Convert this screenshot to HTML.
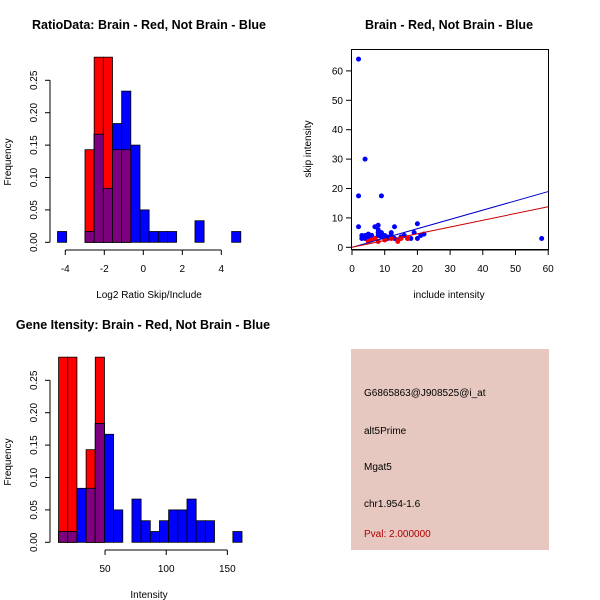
<!DOCTYPE html>
<html><head><meta charset="utf-8"><style>
html,body{margin:0;padding:0;background:#fff}
svg{display:block;font-family:"Liberation Sans",Helvetica,sans-serif}
</style></head><body>
<svg id="c" width="600" height="600" xmlns="http://www.w3.org/2000/svg">
<text x="149" y="29" text-anchor="middle" font-weight="bold" font-size="12.5">RatioData: Brain - Red, Not Brain - Blue</text>
<text x="449" y="29" text-anchor="middle" font-weight="bold" font-size="12.5">Brain - Red, Not Brain - Blue</text>
<text x="143" y="329" text-anchor="middle" font-weight="bold" font-size="12.5">Gene Itensity: Brain - Red, Not Brain - Blue</text>
<text x="149" y="298" text-anchor="middle" font-size="10">Log2 Ratio Skip/Include</text>
<text x="149" y="598" text-anchor="middle" font-size="10">Intensity</text>
<text x="449" y="298" text-anchor="middle" font-size="10">include intensity</text>
<text transform="translate(11,162) rotate(-90)" text-anchor="middle" font-size="10">Frequency</text>
<text transform="translate(11,462) rotate(-90)" text-anchor="middle" font-size="10">Frequency</text>
<text transform="translate(311,149) rotate(-90)" text-anchor="middle" font-size="10">skip intensity</text>
<g>
<rect x="351" y="349" width="198" height="201" fill="#e6c8c0"/>
<text x="364" y="396" font-size="10">G6865863@J908525@i_at</text>
<text x="364" y="434" font-size="10">alt5Prime</text>
<text x="364" y="470" font-size="10">Mgat5</text>
<text x="364" y="507" font-size="10">chr1.954-1.6</text>
<text x="364" y="537" font-size="10" fill="#b00000">Pval: 2.000000</text>
</g>
</svg>
<script>
const ratioStart=-4.4, ratioWidth=0.47;
const ratioBlue=[1/60,0,0,1/60,0.1667,0.0833,0.1833,0.2333,0.15,0.05,1/60,1/60,1/60,0,0,0.0333,0,0,0,1/60];
const ratioRed=[0,0,0,0.1429,0.2857,0.2857,0.1429,0.1429,0,0,0,0,0,0,0,0,0,0,0,0];
const ratioXTicks=[-4,-2,0,2,4];
const freqTicks=[0,0.05,0.10,0.15,0.20,0.25];
const freqTickLabels=["0.00","0.05","0.10","0.15","0.20","0.25"];
const intStart=12, intWidth=7.5;
const intBlue=[1/60,1/60,0.0833,0.0833,0.1833,0.1667,0.05,0,0.0667,0.0333,1/60,0.0333,0.05,0.05,0.0667,0.0333,0.0333,0,0,1/60];
const intRed=[0.2857,0.2857,0,0.1429,0.2857,0,0,0,0,0,0,0,0,0,0,0,0,0,0,0];
const intXTicks=[50,100,150];
const scatterBlueX=[2,4,2,9,58,2,20,3,4,5,6,5,7,8,8,9,10,11,12,13,14,15,16,18,19,20,22,6,7,4,5,9,10,12,3,6,8,11,17,21,13,7,5,8];
const scatterBlueY=[64,30,17.5,17.5,3,7,8,4,3,2.5,4,3.5,7,6,7.5,5,4,3,4,3,2.5,3.5,4,3,5,3,4.5,2.5,3,4,4.5,3.5,3,5,3,4,5,3.5,3,4,7,3,2,4];
const scatterRedX=[5,8,12,14,17,7,10,15,6];
const scatterRedY=[2,2,3,2,3,3,2.5,3,2.5];
const lineBlueSlope=0.316, lineRedSlope=0.23;
const scatterXTicks=[0,10,20,30,40,50,60];
const scatterYTicks=[0,10,20,30,40,50,60];

const svg=document.getElementById('c');
const NS='http://www.w3.org/2000/svg';
function mk(tag,attrs,parent){const e=document.createElementNS(NS,tag);for(const k in attrs)e.setAttribute(k,attrs[k]);(parent||svg).appendChild(e);return e;}

function hist(name,start,width,red,blue,sx,sy0,ky,xTicks,tickY,xlineY,axisX){
  const g=mk('g',{});
  
  
  const X=v=>sx.o+v*sx.k, Y=v=>sy0-v*ky;
  for(let i=0;i<blue.length;i++){
    const x0=X(start+i*width), x1=X(start+(i+1)*width);
    const r=red[i], b=blue[i];
    if(r>0){const e=mk('rect',{x:x0,y:Y(r),width:x1-x0,height:r*ky,fill:'#ff0000',stroke:'#000','stroke-width':0.8},g);
      
      }
    if(b>0){const e=mk('rect',{x:x0,y:Y(b),width:x1-x0,height:b*ky,fill:'#0000ff',stroke:'#000','stroke-width':0.8},g);
      
      }
    const m=Math.min(r,b);
    if(m>0){const e=mk('rect',{x:x0,y:Y(m),width:x1-x0,height:m*ky,fill:'#7f007f',stroke:'#000','stroke-width':0.8},g);
      
      }
  }
  mk('line',{x1:axisX,x2:axisX,y1:Y(0),y2:Y(0.25),stroke:'#000'},g);
  freqTicks.forEach((t,i)=>{
    mk('line',{x1:axisX-5,x2:axisX,y1:Y(t),y2:Y(t),stroke:'#000'},g);
    const e=mk('text',{transform:`translate(${axisX-13},${Y(t)}) rotate(-90)`,'text-anchor':'middle','font-size':10},g);
    e.textContent=freqTickLabels[i];
    
    
  });
  mk('line',{x1:X(xTicks[0]),x2:X(xTicks[xTicks.length-1]),y1:xlineY,y2:xlineY,stroke:'#000'},g);
  xTicks.forEach(t=>{
    mk('line',{x1:X(t),x2:X(t),y1:xlineY,y2:xlineY+5,stroke:'#000'},g);
    const e=mk('text',{x:X(t),y:tickY,'text-anchor':'middle','font-size':10},g);
    e.textContent=t;
    
    
  });
}
hist('ratio',ratioStart,ratioWidth,ratioRed,ratioBlue,{o:143.3,k:19.5},242.3,648,ratioXTicks,272,250,50);
hist('intensity',intStart,intWidth,intRed,intBlue,{o:43.9,k:1.223},542.3,648,intXTicks,572,550,50);

const sg=mk('g',{});


const SX=v=>352+v*3.27, SY=v=>247.3-v*2.94;
mk('rect',{x:351.5,y:49.5,width:197,height:200,fill:'none',stroke:'#000'},sg);
scatterXTicks.forEach(t=>{
  mk('line',{x1:SX(t),x2:SX(t),y1:250,y2:255,stroke:'#000'},sg);
  const e=mk('text',{x:SX(t),y:272,'text-anchor':'middle','font-size':10},sg);
  e.textContent=t;
  
  
});
mk('line',{x1:SX(0),x2:SX(60),y1:250,y2:250,stroke:'#000'},sg);
scatterYTicks.forEach(t=>{
  mk('line',{x1:346,x2:351,y1:SY(t),y2:SY(t),stroke:'#000'},sg);
  const e=mk('text',{x:343,y:SY(t)+3.5,'text-anchor':'end','font-size':10},sg);
  e.textContent=t;
  
  
});
scatterBlueX.forEach((x,i)=>{
  const e=mk('circle',{cx:SX(x),cy:SY(scatterBlueY[i]),r:2.5,fill:'#0000ff'},sg);
  
  
});
scatterRedX.forEach((x,i)=>{
  const e=mk('circle',{cx:SX(x),cy:SY(scatterRedY[i]),r:2.5,fill:'#ff0000'},sg);
  
  
});
const bl=mk('line',{x1:SX(0),y1:SY(0),x2:SX(60),y2:SY(60*lineBlueSlope),stroke:'#0000cc','stroke-width':1},sg);


const rl=mk('line',{x1:SX(0),y1:SY(0),x2:SX(60),y2:SY(60*lineRedSlope),stroke:'#cc0000','stroke-width':1},sg);


</script>
</body></html>
